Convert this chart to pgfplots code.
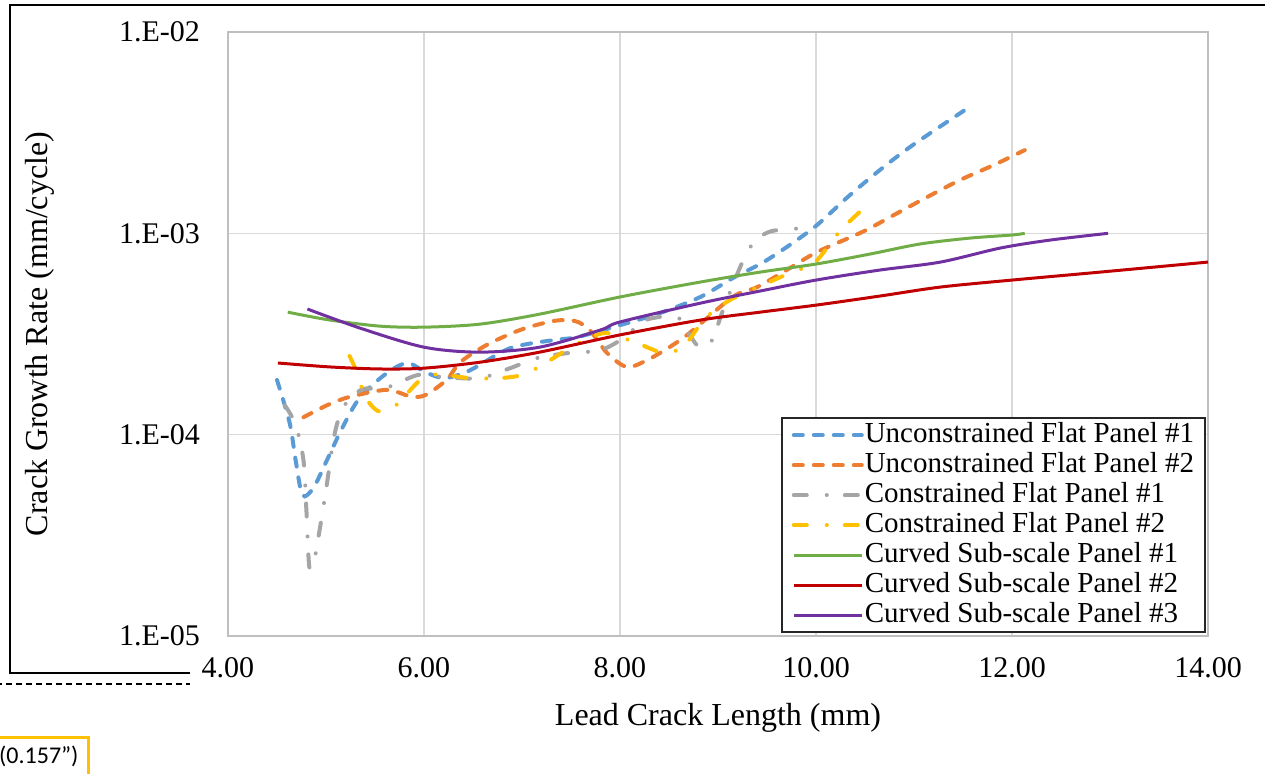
\documentclass[border=0pt]{standalone}
\usepackage{fontspec}
\setmainfont{Liberation Serif}
\newfontfamily\calibri{Carlito}
\usepackage{pgfplots}
\pgfplotsset{compat=1.18}
\definecolor{cblue}{RGB}{91,155,213}
\definecolor{corange}{RGB}{237,125,49}
\definecolor{cgray}{RGB}{165,165,165}
\definecolor{cyellow}{RGB}{255,192,0}
\definecolor{cgreen}{RGB}{112,173,71}
\definecolor{cred}{RGB}{192,0,0}
\definecolor{cpurple}{RGB}{112,48,160}
\begin{document}
\begin{tikzpicture}
\path[use as bounding box] (-114pt,-68.5pt) rectangle (518.5pt,318pt);
% surrounding frame of the source figure
\draw[black, line width=1pt] (-19pt,-18.5pt) -- (-109pt,-18.5pt) -- (-109pt,315.5pt) -- (522pt,315.5pt);
\draw[black, dash pattern=on 3pt off 2pt, line width=0.6pt] (-116pt,-24pt) -- (-19pt,-24pt);
\draw[cyellow, line width=1.5pt] (-118pt,-72pt) rectangle (-69.5pt,-50.5pt);
\node[font=\calibri\fontsize{12}{14}\selectfont, anchor=west, inner sep=0pt] at (-114.6pt,-60pt) {(0.157”)};
\begin{axis}[
  scale only axis, width=490pt, height=302pt,
  at={(0,0)}, anchor=south west,
  xmin=4, xmax=14, ymin=1e-5, ymax=1e-2, ymode=log,
  xtick={4,6,8,10,12,14},
  xticklabels={4.00,6.00,8.00,10.00,12.00,14.00},
  ytick={1e-5,1e-4,1e-3,1e-2},
  yticklabels={1.E-05,1.E-04,1.E-03,1.E-02},
  minor tick num=0, yminorticks=false,
  major tick length=0pt,
  xmajorgrids, ymajorgrids,
  grid style={draw=black!15, line width=0.8pt},
  axis line style={draw=black!25, line width=0.8pt},
  tick label style={font=\fontsize{15}{18}\selectfont},
  xticklabel style={yshift=-7pt},
  yticklabel style={xshift=-10.5pt},
  label style={font=\fontsize{16}{19}\selectfont},
  xlabel={Lead Crack Length (mm)},
  xlabel style={at={(axis description cs:0.5,-0.1358)}, anchor=center},
  ylabel={Crack Growth Rate (mm/cycle)},
  ylabel style={at={(axis description cs:-0.1918,0.5)}, anchor=center},
  legend style={at={(1,0)}, anchor=south east, xshift=-1pt, yshift=1.5pt,
    draw=black!85, line width=0.8pt, fill=white,
    inner xsep=5pt, inner ysep=1pt, row sep=0pt,
    font=\fontsize{14.5}{15.5}\selectfont,
    nodes={inner sep=0.5pt, text height=10.5pt, text depth=3.5pt}},
  legend cell align=left,
  legend image code/.code={\draw[#1] (0pt,0pt) -- (34pt,0pt);},
]
\addplot[cblue, line width=2pt, line cap=round, dash pattern=on 4.5pt off 5.5pt, smooth, tension=0.5] coordinates {
(4.50,1.87e-4) (4.63,1.14e-4) (4.69,7.48e-5) (4.76,5.01e-5) (4.87,5.43e-5) (5.01,7.48e-5) (5.17,1.09e-4) (5.35,1.54e-4) (5.62,2.02e-4) (5.83,2.27e-4) (6.01,2.05e-4) (6.21,1.91e-4) (6.47,2.09e-4) (6.88,2.69e-4) (7.32,2.95e-4) (7.56,3.05e-4) (8.00,3.50e-4) (8.41,4.02e-4) (8.82,4.83e-4) (9.15,5.99e-4) (9.50,7.37e-4) (9.97,1.06e-3) (10.32,1.51e-3) (10.65,2.06e-3) (10.99,2.75e-3) (11.55,4.19e-3)
};
\addlegendentry{Unconstrained Flat Panel \#1}
\addplot[corange, line width=2pt, line cap=round, dash pattern=on 4.5pt off 5.5pt, smooth, tension=0.5] coordinates {
(4.77,1.22e-4) (5.01,1.40e-4) (5.24,1.54e-4) (5.62,1.67e-4) (5.86,1.55e-4) (6.01,1.57e-4) (6.23,1.87e-4) (6.37,2.29e-4) (6.64,2.79e-4) (6.98,3.31e-4) (7.32,3.67e-4) (7.54,3.67e-4) (7.69,3.31e-4) (7.87,2.54e-4) (8.07,2.17e-4) (8.28,2.35e-4) (8.54,2.79e-4) (8.71,3.20e-4) (9.15,4.83e-4) (9.40,5.41e-4) (9.70,6.57e-4) (10.01,8.07e-4) (10.48,1.02e-3) (10.79,1.23e-3) (11.13,1.51e-3) (11.47,1.84e-3) (11.81,2.18e-3) (12.13,2.59e-3)
};
\addlegendentry{Unconstrained Flat Panel \#2}
\addplot[cgray, line width=2pt, line cap=round, dash pattern=on 6.5pt off 10pt on 0.01pt off 9pt, smooth, tension=0.5] coordinates {
(4.58,1.40e-4) (4.69,1.12e-4) (4.77,7.48e-5) (4.80,4.22e-5) (4.83,2.20e-5) (4.88,2.38e-5) (4.94,3.48e-5) (5.00,5.31e-5) (5.09,1.02e-4) (5.19,1.40e-4) (5.37,1.68e-4) (5.60,1.70e-4) (5.94,1.98e-4) (6.21,1.93e-4) (6.57,1.91e-4) (6.88,2.14e-4) (7.15,2.40e-4) (7.46,2.54e-4) (7.80,2.63e-4) (8.05,3.05e-4) (8.26,3.71e-4) (8.58,3.84e-4) (8.71,3.13e-4) (8.82,2.69e-4) (8.94,2.95e-4) (9.07,4.40e-4) (9.31,8.26e-4) (9.53,1.02e-3) (9.94,1.06e-3)
};
\addlegendentry{Constrained Flat Panel \#1}
\addplot[cyellow, line width=2pt, line cap=round, dash pattern=on 6.5pt off 10pt on 0.01pt off 9pt, smooth, tension=0.5] coordinates {
(5.24,2.46e-4) (5.32,2.02e-4) (5.40,1.54e-4) (5.53,1.31e-4) (5.67,1.34e-4) (5.81,1.57e-4) (6.01,1.95e-4) (6.21,1.98e-4) (6.47,1.91e-4) (6.78,1.91e-4) (7.03,2.00e-4) (7.29,2.35e-4) (7.54,2.79e-4) (7.85,3.20e-4) (8.17,2.85e-4) (8.46,2.54e-4) (8.66,2.79e-4) (8.87,3.79e-4) (9.12,4.66e-4) (9.41,5.41e-4) (9.73,6.35e-4) (9.99,7.20e-4) (10.24,1.02e-3) (10.47,1.31e-3)
};
\addlegendentry{Constrained Flat Panel \#2}
\addplot[cgreen, line width=1.5pt, smooth] coordinates {
(4.61,4.06e-4) (5.04,3.71e-4) (5.55,3.46e-4) (6.00,3.42e-4) (6.57,3.54e-4) (7.18,3.97e-4) (8.00,4.83e-4) (8.82,5.73e-4) (9.43,6.42e-4) (10.00,7.04e-4) (10.55,7.89e-4) (11.06,8.85e-4) (11.57,9.47e-4) (12.00,9.81e-4) (12.13,1.00e-3)
};
\addlegendentry{Curved Sub-scale Panel \#1}
\addplot[cred, line width=1.5pt, smooth] coordinates {
(4.51,2.27e-4) (5.04,2.17e-4) (5.55,2.12e-4) (6.00,2.14e-4) (6.57,2.29e-4) (7.18,2.57e-4) (8.00,3.13e-4) (8.82,3.71e-4) (9.43,4.06e-4) (10.00,4.40e-4) (10.65,4.88e-4) (11.27,5.41e-4) (12.00,5.86e-4) (12.90,6.42e-4) (14.00,7.20e-4)
};
\addlegendentry{Curved Sub-scale Panel \#2}
\addplot[cpurple, line width=1.5pt, smooth] coordinates {
(4.81,4.21e-4) (5.35,3.38e-4) (6.00,2.72e-4) (6.57,2.57e-4) (7.18,2.72e-4) (7.80,3.31e-4) (8.00,3.63e-4) (8.82,4.50e-4) (9.43,5.17e-4) (10.00,5.86e-4) (10.65,6.57e-4) (11.27,7.20e-4) (11.88,8.45e-4) (12.39,9.26e-4) (12.98,1.00e-3)
};
\addlegendentry{Curved Sub-scale Panel \#3}
\end{axis}
\end{tikzpicture}
\end{document}
